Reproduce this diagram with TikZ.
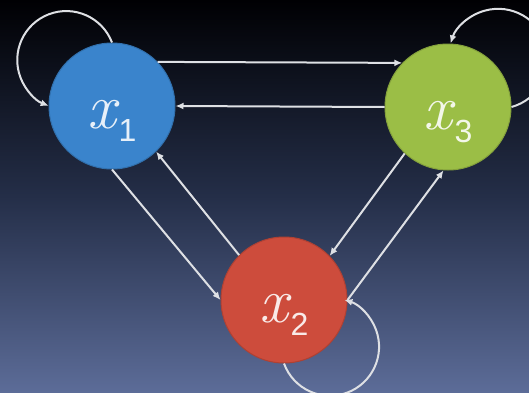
\documentclass[tikz,border=0pt]{standalone}
\usepackage{fontspec}
\newfontfamily\subfont{Liberation Sans}
\usetikzlibrary{arrows.meta}
\definecolor{bgtop}{RGB}{0,0,3}
\definecolor{bgmid}{RGB}{36,46,72}
\definecolor{bgbot}{RGB}{92,108,152}
\definecolor{cblue}{RGB}{58,132,204}
\definecolor{cgreen}{RGB}{155,190,70}
\definecolor{cred}{RGB}{205,76,60}
\definecolor{arr}{RGB}{222,224,228}
\tikzset{
  statebox/.style={circle, minimum size=126pt, inner sep=0pt, fill=#1, draw=#1!85!black, line width=1pt},
  statelabel/.style={text=white!88!#1, inner sep=0pt},
  link/.style={draw=arr, line width=2pt, -{Latex[length=8pt,width=7pt]}}
}
\newcommand{\statetext}[1]{{\fontsize{64}{64}\selectfont\itshape x\kern2pt\raisebox{-13pt}{\subfont\upshape\fontsize{32}{32}\selectfont #1}}}
\begin{document}
\begin{tikzpicture}[x=1pt,y=1pt]
\shade[top color=bgtop, bottom color=bgbot, middle color=bgmid] (0,0) rectangle (529,392);
\useasboundingbox (0,0) rectangle (529,392);
\begin{scope}
\clip (0,0) rectangle (529,392);
\node[statebox=cblue] (x1) at (112,286) {};
\node[statebox=cgreen] (x3) at (448,285) {};
\node[statebox=cred] (x2) at (284,92) {};
\node[statelabel=cblue] (l1) at (112,271) {\statetext{1}};
\node[statelabel=cgreen] (l3) at (448,270) {\statetext{3}};
\node[statelabel=cred] (l2) at (284,77) {\statetext{2}};
% straight links
\draw[link] (x1.44) -- (x3.136);
\draw[link] (x3.west) -- (x1.east);
\draw[link] (x1.south) -- (x2.west);
\draw[link] (x2.135) -- (x1.-46);
\draw[link] (x3.227) -- (x2.44);
\draw[link] (x2.east) -- (x3.266);
% self loops
\draw[link] (x1.north) arc[start angle=21, end angle=249, radius=49];
\draw[link] (x3.east) arc[start angle=-74.5, end angle=162, radius=50];
\draw[link] (x2.south) arc[start angle=200, end angle=433, radius=49];
\end{scope}
\end{tikzpicture}
\end{document}
